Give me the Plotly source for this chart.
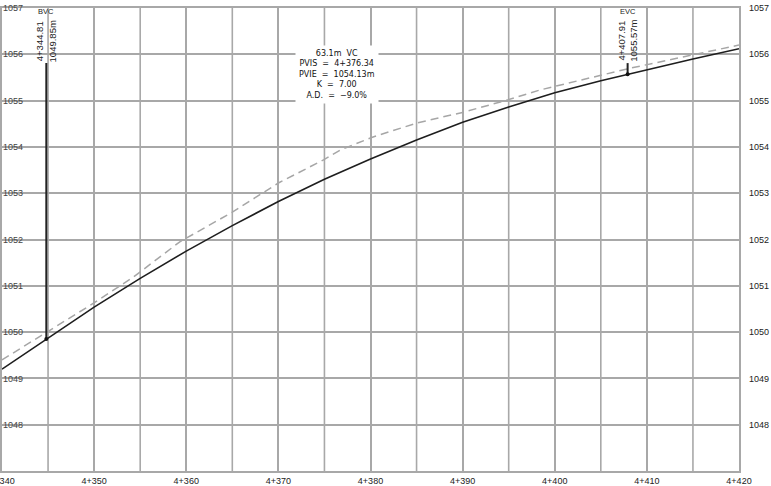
import plotly.graph_objects as go

# proposed profile (solid) - station (m), elevation (m)
fg_sta = [4340, 4344.81, 4350, 4355, 4360, 4365, 4370, 4375, 4380, 4385,
          4390, 4395, 4400, 4405, 4407.91, 4410, 4415, 4420]
fg_elev = [1049.20, 1049.85, 1050.54, 1051.16, 1051.75, 1052.30, 1052.82, 1053.30,
           1053.74, 1054.15, 1054.53, 1054.86, 1055.17, 1055.43, 1055.57, 1055.67,
           1055.90, 1056.12]

# existing ground (dashed)
eg_sta = [4340, 4344.7, 4349.5, 4354.2, 4359.3, 4365.0, 4370.0, 4374.9, 4376.7, 4380.2,
          4385.1, 4390.1, 4394.8, 4398.4, 4408.2, 4420]
eg_elev = [1049.40, 1049.98, 1050.57, 1051.18, 1051.95, 1052.59, 1053.22, 1053.72, 1053.93,
           1054.21, 1054.52, 1054.75, 1055.01, 1055.23, 1055.70, 1056.20]

# vertical curve points
vc_names = ["BVC", "EVC"]
vc_sta = [4344.81, 4407.91]
vc_elev = [1049.85, 1055.57]
vc_sta_txt = ["4+344.81", "4+407.91"]
vc_elev_txt = ["1049.85m", "1055.57m"]
label_top = 1055.81

pvi_sta = 4376.34
vc_info = ["63.1m  VC", "PVIS  =  4+376.34", "PVIE  =  1054.13m",
           "K  =  7.00", "A.D.  =  \u22129.0%"]

x_ticks = [4340, 4350, 4360, 4370, 4380, 4390, 4400, 4410, 4420]
x_labels = ["4+340", "4+350", "4+360", "4+370", "4+380", "4+390", "4+400", "4+410", "4+420"]
y_ticks = list(range(1047, 1058))
y_labels = ["", "1048", "1049", "1050", "1051", "1052", "1053", "1054", "1055", "1056", "1057"]

FONT = "Liberation Sans, Arial, sans-serif"
GRID = "#a8a8a8"

fig = go.Figure()

fig.add_trace(go.Scatter(x=eg_sta, y=eg_elev, mode="lines",
                         line=dict(color="#a6a6a6", width=1.5, dash="8px,5px")))
fig.add_trace(go.Scatter(x=fg_sta, y=fg_elev, mode="lines",
                         line=dict(color="#1e1e1e", width=1.6)))

for s, e in zip(vc_sta, vc_elev):
    fig.add_trace(go.Scatter(x=[s, s], y=[e, label_top], mode="lines",
                             line=dict(color="#222", width=2)))
fig.add_trace(go.Scatter(x=vc_sta, y=vc_elev, mode="markers",
                         marker=dict(color="#111", size=4)))

# dummy trace for right axis labels
fig.add_trace(go.Scatter(x=[x_ticks[0]], y=[y_ticks[0]], yaxis="y2",
                         mode="markers", marker=dict(opacity=0)))

for n, s, st, el in zip(vc_names, vc_sta, vc_sta_txt, vc_elev_txt):
    fig.add_annotation(x=s, y=label_top, yref="y", text=st + "<br>" + el,
                       textangle=-90, showarrow=False, yanchor="bottom",
                       font=dict(family=FONT, size=9.5, color="#222"),
                       yshift=-1, xshift=-1)
    fig.add_annotation(x=s, y=1057, text=n, showarrow=False, yanchor="middle",
                       yshift=-3, font=dict(family=FONT, size=7.5, color="#222"))

fig.add_annotation(x=pvi_sta, y=1056.2, text="<br>".join(vc_info), showarrow=False,
                   xanchor="center", yanchor="top", bgcolor="white", borderpad=3,
                   font=dict(family="DejaVu Sans, sans-serif", size=8, color="#111"))

fig.update_layout(
    width=771, height=486,
    margin=dict(l=2, r=32, t=8, b=15),
    paper_bgcolor="white", plot_bgcolor="white",
    showlegend=False,
    font=dict(family=FONT, size=9, color="#222"),
    xaxis=dict(range=[4340, 4420], showgrid=True, automargin=False,
               gridcolor=GRID, gridwidth=1.6, tickmode="array",
               tickvals=x_ticks, ticktext=x_labels, ticks="",
               ticklabeloverflow="allow",
               showline=True, linecolor=GRID, linewidth=1.6, mirror=True,
               zeroline=False, tickfont=dict(size=9)),
    yaxis=dict(range=[1047, 1057], tickmode="array", tickvals=y_ticks,
               ticktext=y_labels, showgrid=True, gridcolor=GRID, gridwidth=1.6,
               ticklabelposition="inside", ticklabeloverflow="allow",
               ticks="", zeroline=False, automargin=False,
               showline=True, linecolor=GRID, linewidth=1.6, mirror=True,
               tickfont=dict(size=9)),
    yaxis2=dict(range=[1047, 1057], overlaying="y", side="right",
                tickmode="array", tickvals=y_ticks, ticktext=y_labels,
                ticklabeloverflow="allow", automargin=False,
                showgrid=False, zeroline=False, ticks="", ticklabelstandoff=9,
                tickfont=dict(size=9)),
)

# extra vertical grid every 5 m
for s in range(4345, 4420, 10):
    fig.add_vline(x=s, line=dict(color=GRID, width=1.6), layer="below")

fig.write_html("out.html", config={"displayModeBar": False},
               post_script="document.body.style.margin='0';")
